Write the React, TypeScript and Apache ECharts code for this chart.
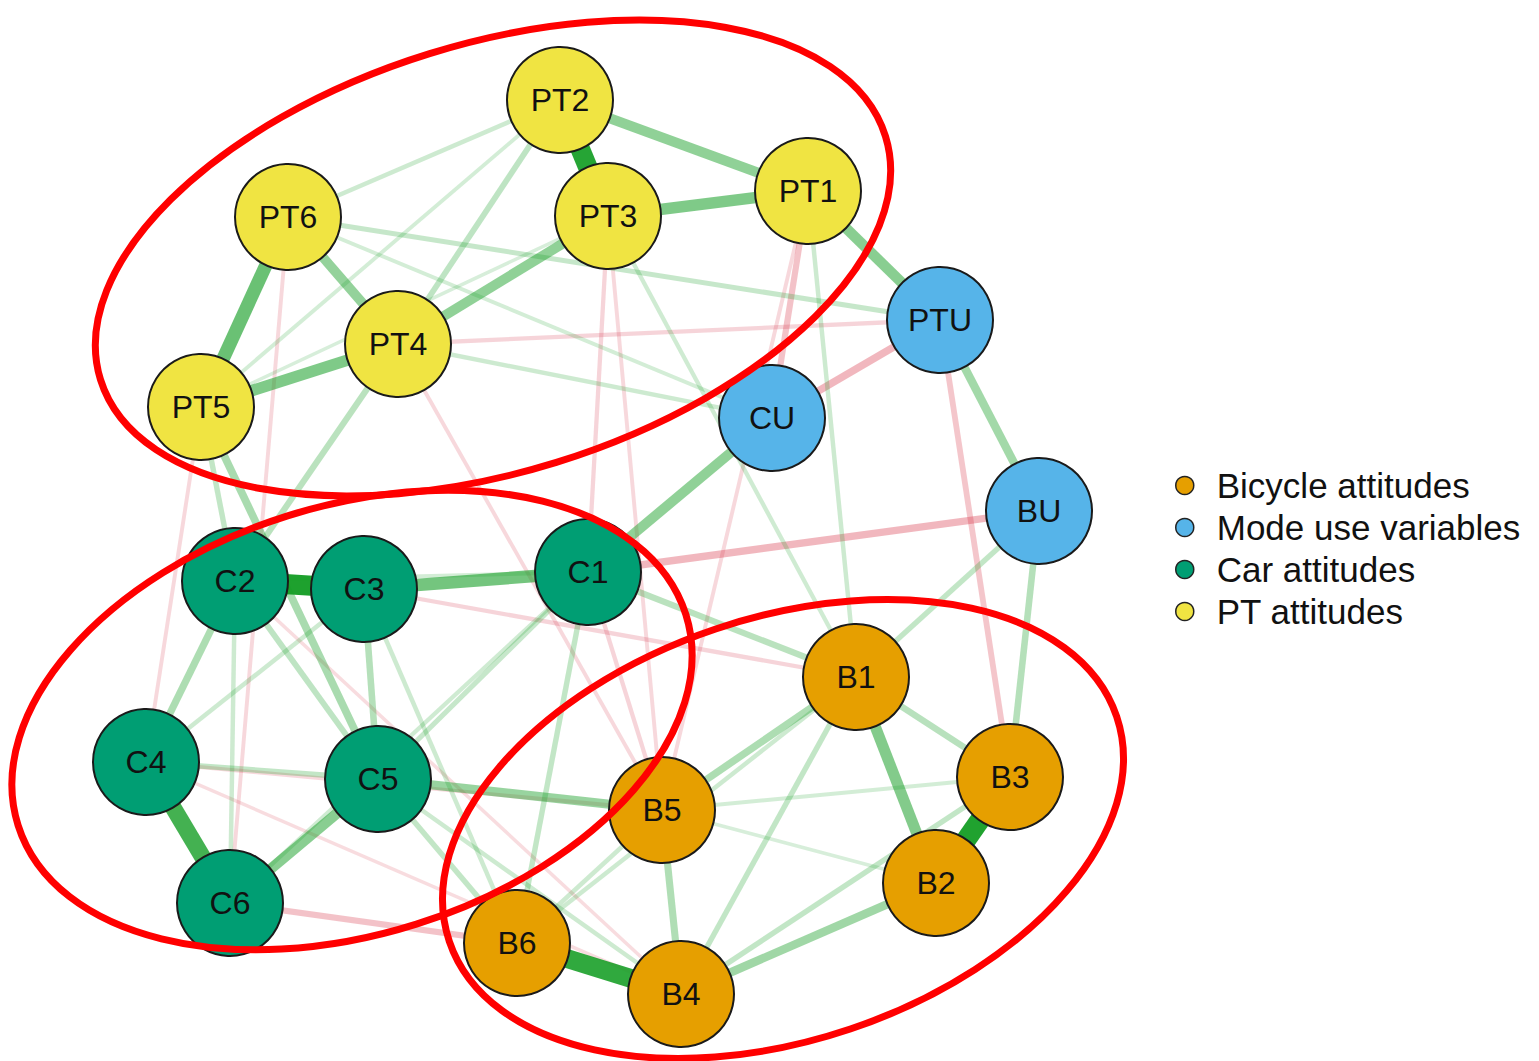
import React, { useEffect, useRef } from 'react';
import * as echarts from 'echarts';

// ---- Nodes (layout positions from the reference network plot) ----
const nodeNames = ['PT2', 'PT6', 'PT3', 'PT1', 'PT4', 'PT5', 'PTU', 'CU', 'BU', 'C2', 'C3', 'C1', 'C4', 'C5', 'C6', 'B1', 'B3', 'B5', 'B2', 'B6', 'B4'];
const nodeX = [560, 288, 608, 808, 398, 201, 940, 772, 1039, 235, 364, 588, 146, 378, 230, 856, 1010, 662, 936, 517, 681];
const nodeY = [100, 217, 216, 191, 344, 407, 320, 418, 511, 581, 589, 572, 762, 779, 903, 677, 777, 810, 883, 943, 994];
const nodeGroup = [3, 3, 3, 3, 3, 3, 1, 1, 1, 2, 2, 2, 2, 2, 2, 0, 0, 0, 0, 0, 0];

// ---- Groups (legend) ----
const groupNames = ['Bicycle attitudes', 'Mode use variables', 'Car attitudes', 'PT attitudes'];
const groupColors = ['#E69F00', '#56B4E9', '#009E73', '#F0E442'];

// ---- Edges (signed weights) ----
const edgeFrom = [
  'PT5', 'PT6', 'PT3', 'PT3', 'PT1', 'PT4', 'PT4', 'C4', 'C4', 'C3', 'C1', 'C2',
  'C6', 'PTU', 'PT1', 'CU', 'BU',
  'PT2', 'PT6', 'PT6', 'PT4', 'PT3', 'PT1', 'PT5', 'PT2', 'PT2', 'PT3',
  'C1', 'C1', 'C1', 'C1', 'C1', 'C2', 'C2', 'C2', 'C3', 'C3', 'C4', 'C5', 'C5', 'C3',
  'B1', 'B1', 'B1', 'B1', 'B3', 'B3', 'B2', 'B4', 'B5', 'B2', 'BU', 'BU', 'PTU', 'PT1',
  'CU', 'PT4', 'PT5', 'C5',
  'PT1', 'PT1', 'PT3', 'PT4', 'PT4', 'PT5', 'C1', 'C5', 'B1',
  'C4', 'PT2', 'B4', 'C2', 'B2',
];
const edgeTo = [
  'C4', 'C6', 'C1', 'B5', 'B5', 'B5', 'PTU', 'B5', 'B4', 'B1', 'B5', 'B4',
  'B6', 'B3', 'CU', 'PTU', 'C1',
  'PT6', 'PTU', 'CU', 'CU', 'B1', 'B1', 'C2', 'PT5', 'PT4', 'PT5',
  'B1', 'B6', 'C5', 'C6', 'C2', 'C4', 'C5', 'C6', 'C4', 'C5', 'C5', 'B6', 'B4', 'B6',
  'B6', 'B3', 'B4', 'B5', 'B5', 'B4', 'B4', 'B5', 'B6', 'B5', 'B1', 'B3', 'BU', 'PTU',
  'C1', 'C2', 'C5', 'B5',
  'PT2', 'PT3', 'PT4', 'PT6', 'PT5', 'PT6', 'C3', 'C6', 'B2',
  'C6', 'PT3', 'B6', 'C3', 'B3',
];
const edgeWeight = [
  -0.1, -0.1, -0.12, -0.1, -0.1, -0.1, -0.12, -0.1, -0.08, -0.12, -0.12, -0.08,
  -0.22, -0.2, -0.22, -0.28, -0.28,
  0.13, 0.16, 0.1, 0.13, 0.12, 0.13, 0.18, 0.1, 0.2, 0.08,
  0.22, 0.18, 0.16, 0.12, 0.1, 0.28, 0.2, 0.13, 0.13, 0.24, 0.18, 0.18, 0.13, 0.13,
  0.13, 0.23, 0.18, 0.28, 0.1, 0.18, 0.34, 0.27, 0.13, 0.08, 0.18, 0.24, 0.33, 0.45,
  0.42, 0.22, 0.3, 0.38,
  0.42, 0.5, 0.42, 0.4, 0.5, 0.6, 0.55, 0.45, 0.48,
  0.78, 0.92, 0.88, 0.96, 0.95,
];

// ---- Group outline ellipses ----
const ellipseCX = [493, 352, 783];
const ellipseCY = [258, 720, 829];
const ellipseRX = [411, 350, 352];
const ellipseRY = [214, 214, 211];
const ellipseTiltDeg = [17.2, 17.5, 18.6];

const POS = 'rgb(22,158,38)';
const NEG = 'rgb(214,50,70)';
const FONT = '"Liberation Sans", Arial, Helvetica, sans-serif';

export default function App() {
  const ref = useRef<HTMLDivElement>(null);
  useEffect(() => {
    if (!ref.current) return;
    const chart = echarts.init(ref.current, null, { renderer: 'svg' });
    const nodes = nodeNames.map((n, i) => ({
      name: n,
      value: [nodeX[i], nodeY[i]],
      category: nodeGroup[i],
    }));
    const links = edgeFrom.map((s, i) => {
      const w = edgeWeight[i];
      const a = Math.abs(w);
      return {
        source: s,
        target: edgeTo[i],
        lineStyle: {
          width: 2 + 19 * a,
          color: w > 0 ? POS : NEG,
          opacity: 0.1 + 0.9 * a,
          curveness: 0,
        },
      };
    });
    const ellipses = ellipseCX.map((cx, i) => ({
      type: 'ellipse',
      x: cx,
      y: ellipseCY[i],
      rotation: (ellipseTiltDeg[i] * Math.PI) / 180,
      shape: { cx: 0, cy: 0, rx: ellipseRX[i], ry: ellipseRY[i] },
      style: { fill: 'transparent', stroke: '#ff0000', lineWidth: 7 },
      z: 100,
      silent: true,
    }));
    chart.setOption({
      animation: false,
      backgroundColor: '#ffffff',
      grid: { left: 0, right: 0, top: 0, bottom: 0 },
      xAxis: { type: 'value', min: 0, max: 1539, show: false },
      yAxis: { type: 'value', min: 0, max: 1061, inverse: true, show: false },
      legend: {
        data: groupNames,
        orient: 'vertical',
        left: 1170,
        top: 463,
        icon: 'circle',
        itemWidth: 54,
        itemHeight: 18,
        itemGap: 7,
        itemStyle: { borderColor: '#222', borderWidth: 1.5 },
        textStyle: { fontSize: 35, lineHeight: 35, color: '#111', fontFamily: FONT },
        selectedMode: false,
      },
      series: [
        {
          type: 'graph',
          coordinateSystem: 'cartesian2d',
          layout: 'none',
          symbol: 'circle',
          symbolSize: 106,
          categories: groupNames.map((n, i) => ({ name: n, itemStyle: { color: groupColors[i] } })),
          data: nodes,
          links,
          lineStyle: { width: 3, curveness: 0 },
          itemStyle: { borderColor: '#1a1a1a', borderWidth: 2 },
          label: {
            show: true,
            position: 'inside',
            fontSize: 32,
            color: '#111',
            fontFamily: FONT,
          },
          emphasis: { disabled: true },
        },
      ],
      graphic: ellipses,
    });
    return () => chart.dispose();
  }, []);
  return (
    <div
      ref={ref}
      style={{ position: 'fixed', left: 0, top: 0, width: 1539, height: 1061, background: '#fff' }}
    />
  );
}
